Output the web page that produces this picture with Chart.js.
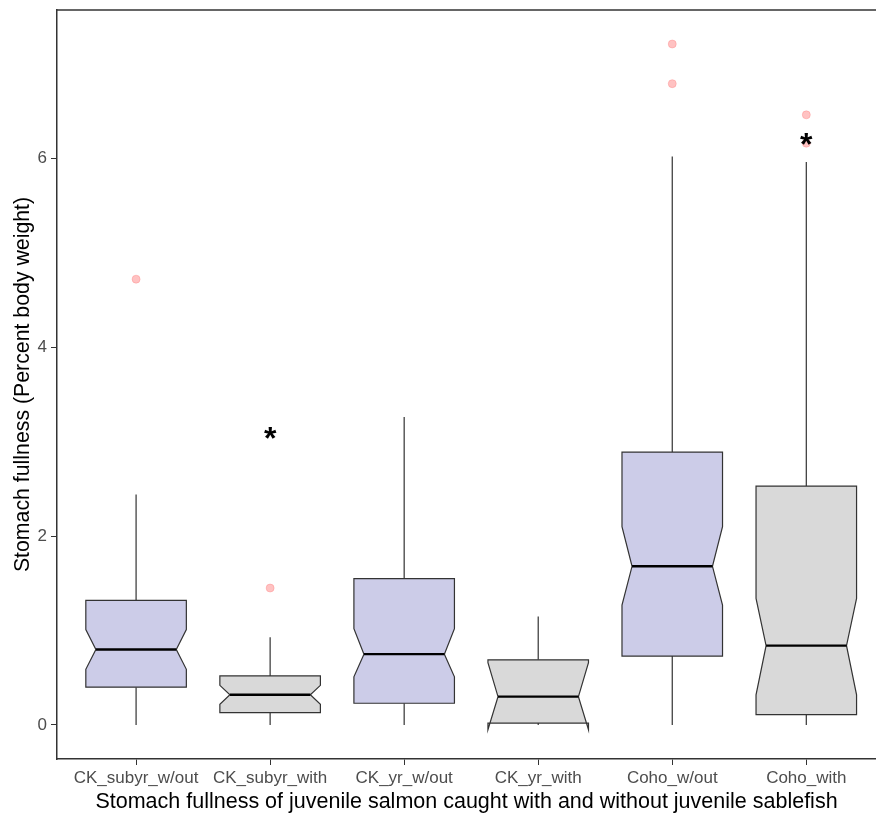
<!DOCTYPE html>
<html lang="en">

<head>
    <meta charset="UTF-8">
    <title>Stomach fullness boxplot</title>
    <script src="https://cdn.jsdelivr.net/npm/chart.js"></script>
    <style>
        html, body { margin: 0; padding: 0; background: #fff; }
        #wrap { width: 876px; height: 813px; }
    </style>
</head>

<body>
    <div id="wrap"><canvas id="fullChart"></canvas></div>
    <script>
        // values
        const categories = ['CK_subyr_w/out', 'CK_subyr_with', 'CK_yr_w/out', 'CK_yr_with', 'Coho_w/out', 'Coho_with'];
        const whiskerLow = [0, 0, 0, 0, 0, 0];
        const q1 = [0.40, 0.13, 0.23, 0.02, 0.73, 0.11];
        const notchLow = [0.59, 0.22, 0.51, -0.05, 1.27, 0.32];
        const median = [0.80, 0.32, 0.75, 0.30, 1.68, 0.84];
        const notchHigh = [1.01, 0.42, 1.02, 0.66, 2.10, 1.34];
        const q3 = [1.32, 0.52, 1.55, 0.69, 2.89, 2.53];
        const whiskerHigh = [2.44, 0.93, 3.26, 1.15, 6.02, 5.96];
        const outliers = [[4.72], [1.45], [], [], [7.21, 6.79], [6.46, 6.16]];
        const starCategory = [1, 5];
        const starValue = [3.09, 6.20];
        const yTicks = [0, 2, 4, 6];

        const outlierPoints = [];
        outliers.forEach((vals, i) => vals.forEach(v => outlierPoints.push({ x: i, y: v })));

        const fontFamily = '"Liberation Sans", Arial, sans-serif';

        // notched boxes drawn through the chart's scales
        const boxPlugin = {
            id: 'notchedBoxes',
            beforeDatasetsDraw(chart) {
                const { ctx, scales: { x, y } } = chart;
                ctx.save();
                categories.forEach((cat, i) => {
                    const xl = x.getPixelForValue(i - 0.375);
                    const xr = x.getPixelForValue(i + 0.375);
                    const nl = x.getPixelForValue(i - 0.3);
                    const nr = x.getPixelForValue(i + 0.3);
                    const xc = x.getPixelForValue(i);
                    // whiskers
                    ctx.strokeStyle = '#333';
                    ctx.lineWidth = 1.2;
                    ctx.beginPath();
                    ctx.moveTo(xc, y.getPixelForValue(q3[i]));
                    ctx.lineTo(xc, y.getPixelForValue(whiskerHigh[i]));
                    ctx.moveTo(xc, y.getPixelForValue(q1[i]));
                    ctx.lineTo(xc, y.getPixelForValue(whiskerLow[i]));
                    ctx.stroke();
                    // box
                    ctx.beginPath();
                    ctx.moveTo(xl, y.getPixelForValue(q3[i]));
                    ctx.lineTo(xl, y.getPixelForValue(notchHigh[i]));
                    ctx.lineTo(nl, y.getPixelForValue(median[i]));
                    ctx.lineTo(xl, y.getPixelForValue(notchLow[i]));
                    ctx.lineTo(xl, y.getPixelForValue(q1[i]));
                    ctx.lineTo(xr, y.getPixelForValue(q1[i]));
                    ctx.lineTo(xr, y.getPixelForValue(notchLow[i]));
                    ctx.lineTo(nr, y.getPixelForValue(median[i]));
                    ctx.lineTo(xr, y.getPixelForValue(notchHigh[i]));
                    ctx.lineTo(xr, y.getPixelForValue(q3[i]));
                    ctx.closePath();
                    ctx.fillStyle = cat.endsWith('w/out') ? '#cccce8' : '#d9d9d9';
                    ctx.fill();
                    ctx.strokeStyle = '#333';
                    ctx.stroke();
                    // median
                    ctx.beginPath();
                    ctx.lineWidth = 2.4;
                    ctx.strokeStyle = '#000';
                    ctx.moveTo(nl, y.getPixelForValue(median[i]));
                    ctx.lineTo(nr, y.getPixelForValue(median[i]));
                    ctx.stroke();
                });
                ctx.restore();
            },
            afterDatasetsDraw(chart) {
                const { ctx, scales: { x, y }, chartArea } = chart;
                ctx.save();
                // top panel line
                ctx.strokeStyle = '#333';
                ctx.lineWidth = 1.5;
                ctx.beginPath();
                ctx.moveTo(chartArea.left, chartArea.top);
                ctx.lineTo(chart.width, chartArea.top);
                ctx.stroke();
                // significance stars
                ctx.fillStyle = '#000';
                ctx.font = 'bold 32px ' + fontFamily;
                ctx.textAlign = 'center';
                ctx.textBaseline = 'middle';
                starCategory.forEach((c, k) => {
                    ctx.fillText('*', x.getPixelForValue(c), y.getPixelForValue(starValue[k]) + 7);
                });
                ctx.restore();
            }
        };

        const ctx = document.getElementById('fullChart').getContext('2d');
        new Chart(ctx, {
            type: 'scatter',
            data: {
                datasets: [{
                    label: 'outliers',
                    data: outlierPoints,
                    pointRadius: 4,
                    pointBackgroundColor: 'rgba(255, 120, 120, 0.45)',
                    pointBorderColor: 'rgba(255, 120, 120, 0.35)',
                    pointBorderWidth: 1
                }]
            },
            options: {
                responsive: true,
                maintainAspectRatio: false,
                animation: false,
                layout: { autoPadding: false, padding: { top: 10, left: 0, right: 0, bottom: 0 } },
                plugins: {
                    legend: { display: false },
                    tooltip: { enabled: false }
                },
                scales: {
                    x: {
                        type: 'linear',
                        min: -0.59,
                        max: 5.52,
                        afterBuildTicks: (axis) => { axis.ticks = categories.map((c, i) => ({ value: i })); },
                        afterFit: (axis) => {
                            axis.height = 54;
                            axis.paddingLeft = 0;
                            axis.paddingRight = 0;
                        },
                        grid: { drawOnChartArea: false, drawTicks: true, tickLength: 6, color: '#333' },
                        border: { display: true, color: '#333', width: 1.5 },
                        ticks: {
                            autoSkip: false,
                            maxRotation: 0,
                            padding: 3,
                            color: '#4d4d4d',
                            font: { family: fontFamily, size: 17 },
                            callback: (v) => categories[v]
                        },
                        title: {
                            display: true,
                            text: 'Stomach fullness of juvenile salmon caught with and without juvenile sablefish',
                            color: '#000',
                            padding: { top: 3, bottom: -2 },
                            font: { family: fontFamily, size: 21.5 }
                        }
                    },
                    y: {
                        min: -0.36,
                        max: 7.57,
                        afterBuildTicks: (axis) => { axis.ticks = yTicks.map(v => ({ value: v })); },
                        afterFit: (axis) => {
                            axis.width = 57;
                            axis.paddingTop = 0;
                            axis.paddingBottom = 0;
                        },
                        grid: { drawOnChartArea: false, drawTicks: true, tickLength: 6, color: '#333' },
                        border: { display: true, color: '#333', width: 1.5 },
                        ticks: {
                            padding: 4,
                            color: '#4d4d4d',
                            font: { family: fontFamily, size: 17 }
                        },
                        title: {
                            display: true,
                            text: 'Stomach fullness (Percent body weight)',
                            color: '#000',
                            padding: { top: 10, bottom: 0 },
                            font: { family: fontFamily, size: 21.3 }
                        }
                    }
                }
            },
            plugins: [boxPlugin]
        });
    </script>
</body>

</html>
